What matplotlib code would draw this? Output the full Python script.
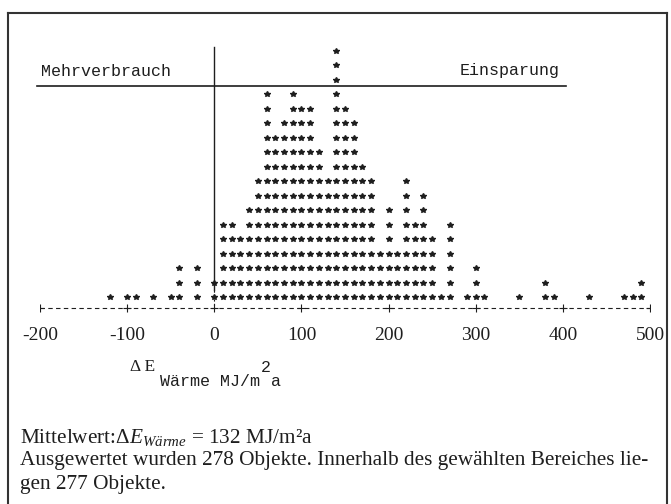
import numpy as np
import matplotlib
matplotlib.use('Agg')
import matplotlib.pyplot as plt

# Dot histogram: one dot per object, class width 10 MJ/m2a
bin_values = [-120, -100, -90, -70, -50, -40, -20, 0,
              10, 20, 30, 40, 50, 60, 70, 80, 90, 100,
              110, 120, 130, 140, 150, 160, 170, 180, 190, 200,
              210, 220, 230, 240, 250, 260, 270,
              290, 300, 310, 350, 380, 390, 430, 470, 480, 490]
counts = [1, 1, 1, 1, 1, 3, 3, 2,
          6, 6, 5, 7, 9, 15, 12, 13, 15, 14,
          14, 11, 9, 18, 14, 13, 10, 9, 4, 7,
          4, 9, 6, 8, 5, 1, 6,
          1, 3, 1, 1, 2, 1, 1, 1, 1, 2]

x_ticks = [-200, -100, 0, 100, 200, 300, 400, 500]
x_ticklabels = ['-200', '-100', '0', '100', '200', '300', '400', '500']

W, H = 671, 504
ink = '#1e1e1e'

plt.rcParams['mathtext.fontset'] = 'custom'
plt.rcParams['mathtext.rm'] = 'Liberation Serif'
plt.rcParams['mathtext.it'] = 'Liberation Serif:italic'

fig = plt.figure(figsize=(W / 100, H / 100), dpi=100)
fig.patch.set_facecolor('white')


def fx(px):
    return px / W


def fy(py):
    return 1 - py / H


# axes in pixel layout: x -200 -> 40 px, 500 -> 650 px; one row = 14.5 px
row_h = 14.5
y0_px = 311.5
top_px = 12
ax = fig.add_axes([fx(40), fy(y0_px), (650 - 40) / W, (y0_px - top_px) / H])
ax.set_xlim(-200, 500)
ax.set_ylim(0, (y0_px - top_px) / row_h)
ax.axis('off')

# dots
xs, ys = [], []
for v, c in zip(bin_values, counts):
    for r in range(1, c + 1):
        xs.append(v)
        ys.append(r)
ax.plot(xs, ys, linestyle='none', marker='*', ms=4.3, color=ink, mec=ink)

# x axis: dashed with + ticks
axis_y = (y0_px - 308) / row_h
ax.plot([-200, 500], [axis_y, axis_y], color=ink, lw=0.8, linestyle=(0, (4, 3)))
ax.plot(x_ticks, [axis_y] * len(x_ticks), linestyle='none', marker='+', ms=6,
        mew=0.8, color=ink)
for t, lab in zip(x_ticks, x_ticklabels):
    ax.text(t, (y0_px - 335) / row_h, lab, ha='center', va='center',
            fontsize=14, family='Liberation Serif', color=ink)

# vertical line at 0 and header line
ax.plot([0, 0], [(y0_px - 47) / row_h, (y0_px - 290) / row_h], color=ink, lw=1.0)
ax.plot([0, 0], [(y0_px - 290) / row_h, axis_y], color=ink, lw=0.8,
        linestyle=(0, (2, 2)))
ax.plot([-200 + (37 - 40) / 0.8714, -200 + (566 - 40) / 0.8714],
        [(y0_px - 86) / row_h] * 2, color=ink, lw=1.2, clip_on=False)

fig.text(fx(41), fy(71), 'Mehrverbrauch', ha='left', va='center',
         fontsize=12, family='Liberation Mono', color=ink)
fig.text(fx(510), fy(71), 'Einsparung', ha='center', va='center',
         fontsize=12, family='Liberation Mono', color=ink)

# axis caption
fig.text(fx(130), fy(367), 'Δ E', ha='left', va='center', fontsize=12.5,
         family='Liberation Serif', color=ink)
fig.text(fx(160), fy(381), 'Wärme MJ/m', ha='left', va='center', fontsize=12,
         family='Liberation Mono', color=ink)
fig.text(fx(261), fy(367), '2', ha='left', va='center', fontsize=12,
         family='Liberation Mono', color=ink)
fig.text(fx(271), fy(381), 'a', ha='left', va='center', fontsize=12,
         family='Liberation Mono', color=ink)

# notes below
fig.text(fx(20), fy(437), r'Mittelwert:$\Delta E_{Wärme}$ = 132 MJ/m²a',
         ha='left', va='center', fontsize=15.3, family='Liberation Serif', color=ink)
fig.text(fx(20), fy(461),
         'Ausgewertet wurden 278 Objekte. Innerhalb des gewählten Bereiches lie-',
         ha='left', va='center', fontsize=15.3, family='Liberation Serif', color=ink)
fig.text(fx(20), fy(485), 'gen 277 Objekte.', ha='left', va='center',
         fontsize=15.3, family='Liberation Serif', color=ink)

# frame around the figure
frame_kw = dict(color='#333333', lw=1.5, transform=fig.transFigure)
fig.add_artist(plt.Line2D([fx(8), fx(8)], [fy(13), fy(503)], **frame_kw))
fig.add_artist(plt.Line2D([fx(8), fx(667)], [fy(13), fy(13)], **frame_kw))
fig.add_artist(plt.Line2D([fx(667), fx(667)], [fy(13), fy(503)], **frame_kw))

fig.savefig('out.png', dpi=100)
